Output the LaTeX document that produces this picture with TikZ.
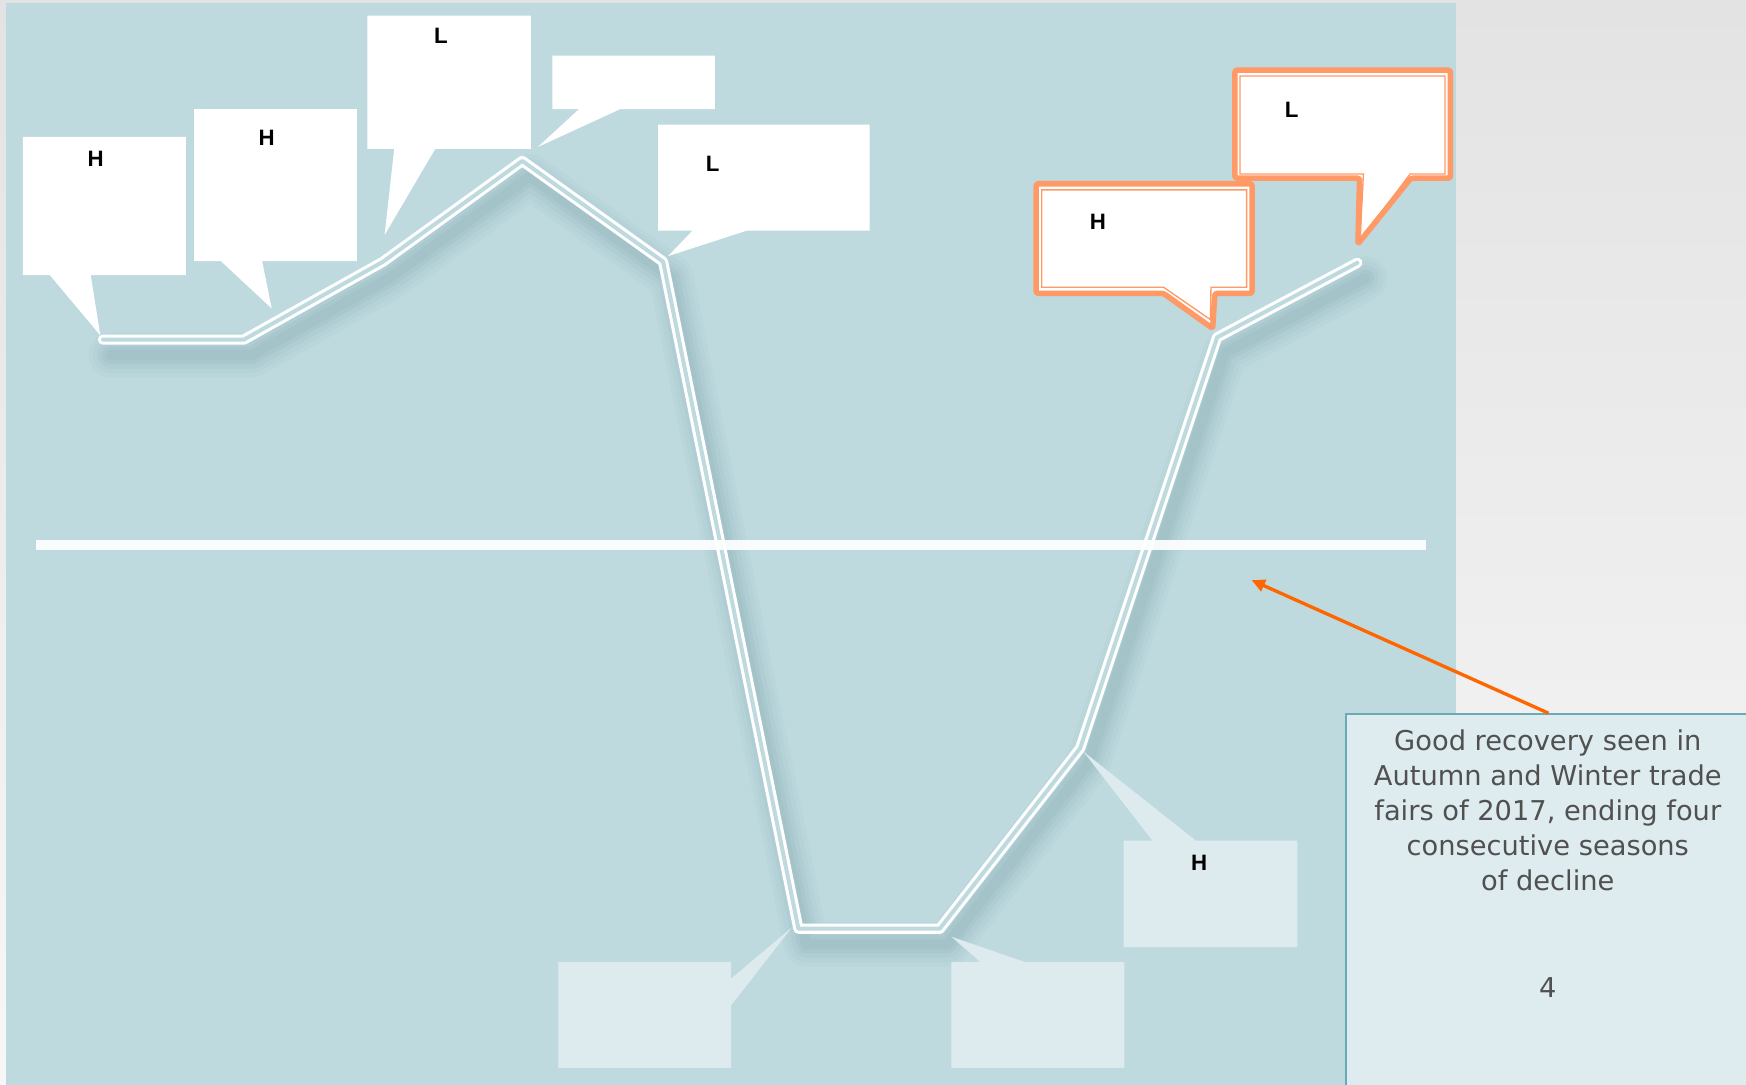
\documentclass[tikz,border=0pt]{standalone}
\usepackage{fontspec}
\setmainfont{Liberation Sans}
\newfontfamily\notefont{DejaVu Sans}
\usetikzlibrary{arrows.meta}
\definecolor{panel}{HTML}{BEDADF}
\definecolor{lightbox}{HTML}{DDEBEF}
\definecolor{orangeb}{HTML}{FF9966}
\definecolor{arrowc}{HTML}{FF6600}
\definecolor{notefill}{HTML}{DEECEF}
\definecolor{notedraw}{HTML}{6AAAB4}
\definecolor{shadowc}{HTML}{5F8C95}
\definecolor{notetext}{HTML}{505050}
\definecolor{bgtop}{HTML}{E3E3E3}
\definecolor{bgbot}{HTML}{F7F7F7}
\begin{document}
\begin{tikzpicture}[x=1pt,y=-1pt,
  lbl/.style={font=\fontsize{20}{24}\selectfont\bfseries, inner sep=0pt, text=black},
  whitecall/.style={fill=white},
  palecall/.style={fill=lightbox},
  zig/.style={draw=white, line width=2.8pt, double=panel, double distance=3.6pt, line join=round, line cap=round},
  zigshadow/.style={draw=shadowc, line join=round, line cap=round},
  oranout/.style={draw=orangeb, line width=5pt, fill=white, rounded corners=2pt, line join=round},
  oranin/.style={draw=orangeb, line width=1.2pt, line join=miter},
  notebox/.style={draw=notedraw, line width=1.3pt, fill=notefill, minimum width=364pt, minimum height=340pt, anchor=north west, inner sep=0pt},
  notetxt/.style={font=\notefont\fontsize{24.5}{31.5}\selectfont, text=notetext, align=center, inner sep=0pt},
  baseline/.style={draw=white, line width=9pt}
]
\useasboundingbox (0,0) rectangle (1568,974);
\clip (0,0) rectangle (1568,974);
% background
\shade[top color=bgtop, bottom color=bgbot] (0,0) rectangle (1568,974);
\fill[panel] (5.5,2.5) rectangle (1307.5,980);

% chart points
\coordinate (p1) at (92.5,305);
\coordinate (p2) at (219,305);
\coordinate (p3) at (344,235);
\coordinate (p4) at (469,144.5);
\coordinate (p5) at (595.5,235);
\coordinate (p6) at (717,834);
\coordinate (p7) at (844,834);
\coordinate (p8) at (970,672);
\coordinate (p9) at (1093,303);
\coordinate (p10) at (1219,236);

% shadow of chart line
\foreach \w/\o in {40/0.045,32/0.05,24/0.06,16/0.07,9/0.08}{
  \draw[zigshadow, line width=\w pt, opacity=\o, transform canvas={shift={(7,14)}}]
    (p1) -- (p2) -- (p3) -- (p4) -- (p5) -- (p6) -- (p7) -- (p8) -- (p9) -- (p10);
}

% chart line
\draw[zig] (p1) -- (p2) -- (p3) -- (p4) -- (p5) -- (p6) -- (p7) -- (p8) -- (p9) -- (p10);

% horizontal reference line
\coordinate (hl) at (32,489.5);
\coordinate (hr) at (1280.5,489.5);
\draw[baseline, opacity=0.92] (hl) -- (hr);

% white callouts (top)
\fill[whitecall] (20.5,123) -- (167,123) -- (167,247) -- (81.5,247) -- (90,301) -- (44.7,247) -- (20.5,247) -- cycle;
\node[lbl] (h1) at (86,143) {H};
\fill[whitecall] (174.3,98) -- (320.6,98) -- (320.6,234.4) -- (235.4,234.4) -- (244,277) -- (198.3,234.4) -- (174.3,234.4) -- cycle;
\node[lbl] (h2) at (239.5,124) {H};
\fill[whitecall] (330,14) -- (476.7,14) -- (476.7,133.8) -- (390.8,133.8) -- (345.4,211) -- (354,133.8) -- (330,133.8) -- cycle;
\node[lbl] (l3) at (396,32.5) {L};
\fill[whitecall] (496,50) -- (642,50) -- (642,98) -- (557,98) -- (483,132) -- (520,98) -- (496,98) -- cycle;
\fill[whitecall] (591,112) -- (781,112) -- (781,207) -- (671,207) -- (600,230) -- (622,207) -- (591,207) -- cycle;
\node[lbl] (l5) at (640,147) {L};

% pale callouts (bottom)
\fill[palecall] (501.5,863.7) -- (656.5,863.7) -- (656.5,879) -- (711,833) -- (656.5,903) -- (656.5,959) -- (501.5,959) -- cycle;
\fill[palecall] (854.4,863.7) -- (880.2,863.7) -- (854.4,841.2) -- (919.7,863.7) -- (1009.8,863.7) -- (1009.8,959) -- (854.4,959) -- cycle;
\fill[palecall] (1009,755) -- (1035,755) -- (973,675) -- (1074,755) -- (1165,755) -- (1165,850.5) -- (1009,850.5) -- cycle;
\node[lbl] (h8) at (1077,775) {H};

% orange callouts
\draw[oranout] (1109,63) -- (1302.5,63) -- (1302.5,160) -- (1267,160) -- (1219.5,219) -- (1221,160) -- (1109,160) -- cycle;
\draw[oranin] (1113.6,68.3) -- (1297.7,68.3) -- (1297.7,156.3) -- (1266.3,156.3) -- (1221.4,216) -- (1224.4,156.3) -- (1113.6,156.3) -- cycle;
\node[lbl] (l10) at (1160,99) {L};
\draw[oranout] (930.5,165) -- (1124.5,165) -- (1124.5,263.5) -- (1091,263.5) -- (1089,295) -- (1045,263.5) -- (930.5,263.5) -- cycle;
\draw[oranin] (935.5,170.5) -- (1119.5,170.5) -- (1119.5,258) -- (1087.5,258) -- (1087,287) -- (1045,258) -- (935.5,258) -- cycle;
\node[lbl] (h9) at (986,199) {H};

% note box
\node[notebox] (note) at (1208,640.5) {};
\node[notetxt, anchor=north] (notetext) at (1390,655) {Good recovery seen in\\Autumn and Winter trade\\fairs of 2017, ending four\\consecutive seasons\\of decline};
\node[notetxt] (pagenum) at (1390,887) {4};

% arrow
\coordinate (target) at (1124,521);
\draw[draw=arrowc, line width=3pt, -{Triangle[length=12pt,width=11pt]}] (note.north) -- (target);
\end{tikzpicture}
\end{document}
